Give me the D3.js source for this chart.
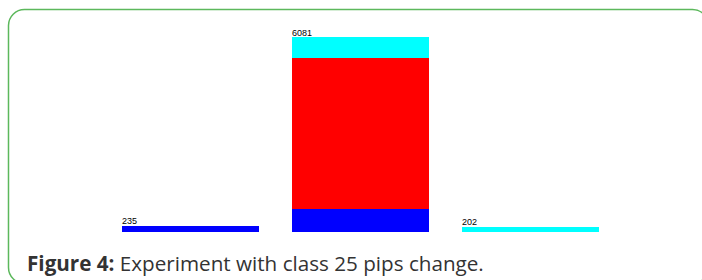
<!DOCTYPE html>
<html>
<head>
<meta charset="utf-8">
<script src="https://cdn.jsdelivr.net/npm/d3@7"></script>
<style>
  html, body { margin: 0; padding: 0; background: #fff; }
  svg { display: block; }
</style>
</head>
<body>
<svg id="chart" width="702" height="280"></svg>
<script>
const categories = ['a', 'b', 'c']
const blueValues = [235, 750, 0]
const redValues = [0, 4700, 0]
const cyanValues = [0, 631, 202]
const totalLabels = ['235', '6081', '202']
const seriesKeys = ['blue', 'red', 'cyan']
const seriesColors = ['#0000ff', '#ff0000', '#00ffff']
const captionBold = 'Figure 4:'
const captionText = ' Experiment with class 25 pips change.'

const svg = d3.select('#chart')
const plotBottom = 232

const rows = categories.map((c, i) => ({
    cat: c,
    blue: blueValues[i],
    red: redValues[i],
    cyan: cyanValues[i],
    label: totalLabels[i]
}))

const stack = d3.stack().keys(seriesKeys)
const layers = stack(rows)

const x = d3.scaleBand()
    .domain(categories)
    .range([105.5, 615.5])
    .paddingInner(0.194)
    .paddingOuter(0.097)

const y = d3.scaleLinear()
    .domain([0, 6081])
    .range([233.5, 37.3])

// green rounded frame
svg.append('rect')
    .attr('x', 8.5)
    .attr('y', 9.5)
    .attr('width', 700)
    .attr('height', 274)
    .attr('rx', 16)
    .attr('fill', 'none')
    .attr('stroke', '#5cb85c')
    .attr('stroke-width', 1.5)

const color = d3.scaleOrdinal().domain(seriesKeys).range(seriesColors)

svg.append('g')
    .selectAll('g')
    .data(layers)
    .enter()
    .append('g')
    .attr('fill', d => color(d.key))
    .selectAll('rect')
    .data(d => d.filter(p => p[1] > p[0]))
    .enter()
    .append('rect')
    .attr('x', d => x(d.data.cat))
    .attr('y', d => y(d[1]))
    .attr('width', x.bandwidth())
    .attr('height', d => Math.min(y(d[0]), plotBottom) - y(d[1]))
    .attr('shape-rendering', 'crispEdges')

const total = d => seriesKeys.reduce((s, k) => s + d[k], 0)

svg.append('g')
    .selectAll('text')
    .data(rows)
    .enter()
    .append('text')
    .attr('x', d => x(d.cat))
    .attr('y', d => y(total(d)) - 1.5)
    .attr('font-family', 'Liberation Sans, Arial, sans-serif')
    .attr('font-size', 9)
    .attr('fill', '#000')
    .text(d => d.label)

const caption = svg.append('text')
    .attr('x', 27)
    .attr('y', 271)
    .attr('font-family', 'Open Sans, sans-serif')
    .attr('font-size', 18)
    .attr('fill', '#333')

caption.append('tspan')
    .attr('font-weight', 'bold')
    .text(captionBold)
caption.append('tspan')
    .text(captionText)

// fit caption to the width it has in the figure
const len = caption.node().getComputedTextLength()
caption.attr('font-size', 18 * 457 / len)
</script>
</body>
</html>
